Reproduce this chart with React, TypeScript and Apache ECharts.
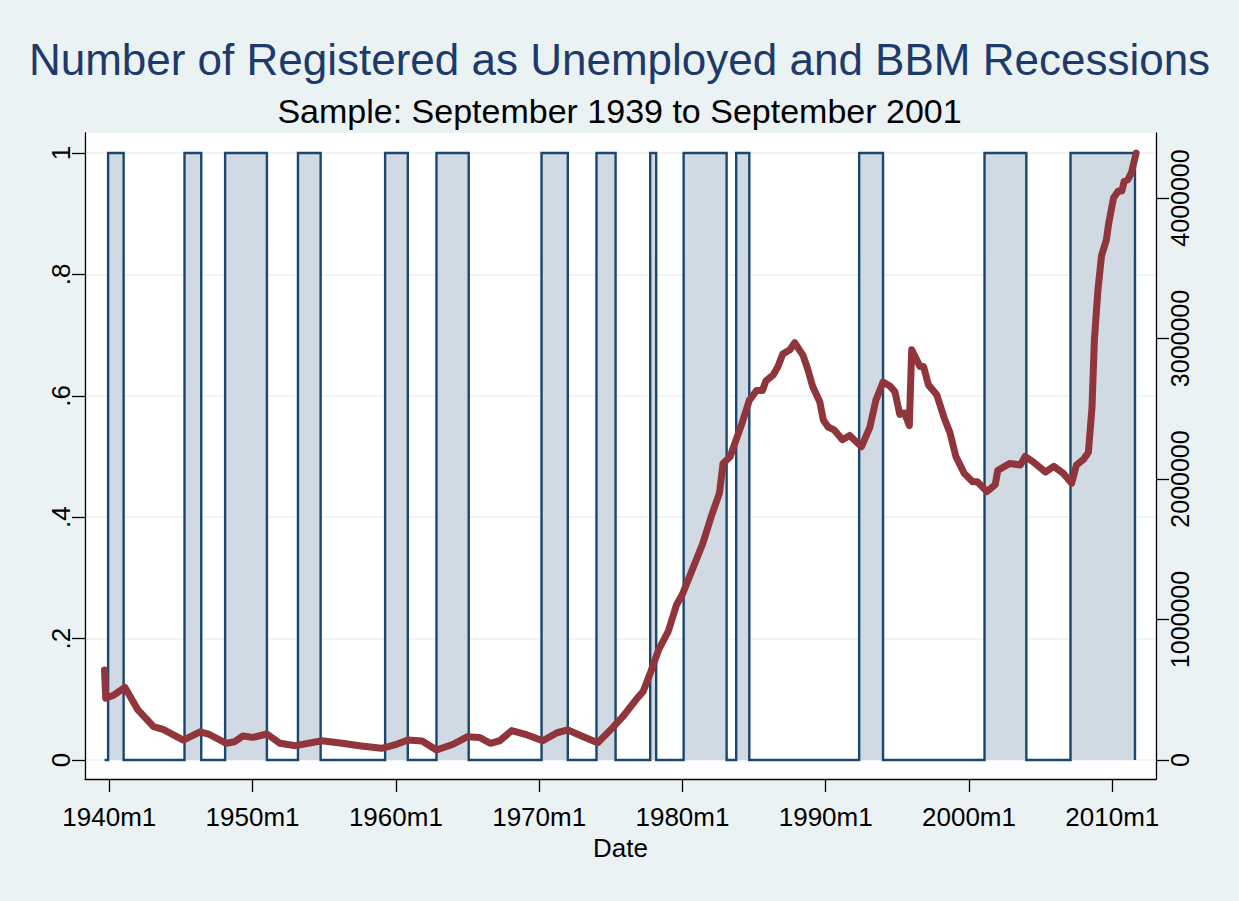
import React, { useEffect, useRef } from "react";
import * as echarts from "echarts";

const FONT = "'Liberation Sans', Arial, Helvetica, sans-serif";

const titleText = "Number of Registered as Unemployed and BBM Recessions";
const subtitleText = "Sample: September 1939 to September 2001";
const xAxisTitle = "Date";

// Sample start (monthly dates, Stata style "YYYYmM")
const sampleStart = "1939m9";

// BBM recession periods (indicator = 1)
const recessionStarts = [
  "1939m12", "1945m4", "1948m2", "1953m3", "1959m4", "1962m11", "1970m3",
  "1974m1", "1977m10", "1980m2", "1983m10", "1992m5", "2001m2", "2007m2",
];
const recessionEnds = [
  "1941m1", "1946m6", "1951m1", "1954m10", "1960m11", "1965m2", "1972m1",
  "1975m5", "1978m3", "1983m2", "1984m9", "1994m1", "2004m1", "2011m8",
];

// Number of registered as unemployed (persons)
const unempDates = [
  "1939m9", "1939m10", "1940m5", "1941m2", "1942m1", "1943m2", "1943m10", "1945m3",
  "1946m5", "1946m12", "1948m3", "1948m10", "1949m5", "1950m1", "1951m1", "1951m12",
  "1953m1", "1954m11", "1956m4", "1957m8", "1959m1", "1959m12", "1960m11", "1961m11",
  "1962m11", "1964m1", "1965m1", "1965m11", "1966m8", "1967m4", "1968m2", "1969m3",
  "1970m4", "1971m4", "1972m1", "1973m2", "1974m2", "1975m2", "1975m11", "1976m11",
  "1977m4", "1977m10", "1978m5", "1979m1", "1979m8", "1980m1", "1981m6", "1982m1",
  "1982m8", "1982m11", "1983m5", "1983m10", "1984m3", "1984m9", "1985m3", "1985m8",
  "1985m11", "1986m5", "1986m9", "1987m1", "1987m7", "1987m11", "1988m6", "1988m10",
  "1989m2", "1989m8", "1989m11", "1990m3", "1990m8", "1991m3", "1991m9", "1992m7",
  "1993m2", "1993m7", "1994m1", "1994m7", "1994m11", "1995m3", "1995m7", "1995m11",
  "1996m1", "1996m8", "1996m11", "1997m3", "1997m10", "1998m4", "1998m9", "1999m2",
  "1999m9", "2000m4", "2000m8", "2001m4", "2001m11", "2002m1", "2002m11", "2003m8",
  "2003m12", "2004m7", "2005m5", "2005m12", "2006m8", "2007m3", "2007m7", "2008m1",
  "2008m5", "2008m8", "2008m10", "2009m1", "2009m4", "2009m8", "2009m10", "2010m2",
  "2010m6", "2010m9", "2010m11", "2011m2", "2011m5", "2011m9",
];
const unempValues = [
  640000, 440000, 463000, 517000, 356000, 237000, 218000, 142000,
  201000, 185000, 119000, 130000, 171000, 161000, 185000, 119000,
  102000, 137000, 119000, 100000, 83000, 107000, 142000, 135000,
  71000, 112000, 166000, 161000, 119000, 137000, 209000, 178000,
  137000, 194000, 214000, 166000, 123000, 225000, 308000, 439000,
  486000, 617000, 783000, 913000, 1103000, 1180000, 1540000, 1730000,
  1900000, 2110000, 2160000, 2280000, 2400000, 2560000, 2630000, 2630000,
  2700000, 2740000, 2800000, 2890000, 2920000, 2970000, 2880000, 2780000,
  2660000, 2550000, 2420000, 2370000, 2350000, 2280000, 2310000, 2230000,
  2370000, 2560000, 2690000, 2660000, 2620000, 2460000, 2470000, 2380000,
  2920000, 2800000, 2800000, 2670000, 2600000, 2440000, 2330000, 2160000,
  2040000, 1980000, 1980000, 1910000, 1960000, 2060000, 2110000, 2100000,
  2160000, 2120000, 2050000, 2090000, 2040000, 1970000, 2100000, 2140000,
  2190000, 2510000, 2990000, 3350000, 3590000, 3700000, 3820000, 4000000,
  4050000, 4050000, 4120000, 4130000, 4180000, 4320000,
];

const xTickLabels = ["1940m1", "1950m1", "1960m1", "1970m1", "1980m1", "1990m1", "2000m1", "2010m1"];
const leftTickValues = [0, 0.2, 0.4, 0.6, 0.8, 1];
const leftTickLabels = ["0", ".2", ".4", ".6", ".8", "1"];
const rightTickValues = [0, 1000000, 2000000, 3000000, 4000000];

function toYear(s: string): number {
  const [y, m] = s.split("m").map(Number);
  return y + (m - 1) / 12;
}

export default function App() {
  const ref = useRef<HTMLDivElement>(null);

  useEffect(() => {
    if (!ref.current) return;
    const chart = echarts.init(ref.current, undefined, { renderer: "svg" });

    const recessionData: number[][] = [[toYear(sampleStart), 0]];
    recessionStarts.forEach((s, i) => {
      const a = toYear(s);
      const b = toYear(recessionEnds[i]);
      recessionData.push([a, 0], [a, 1], [b, 1], [b, 0]);
    });
    const unempData = unempDates.map((d, i) => [toYear(d), unempValues[i]]);
    const xTickValues = xTickLabels.map(toYear);

    const axisLineStyle = { color: "#000", width: 1.3 };

    chart.setOption({
      animation: false,
      backgroundColor: "#EAF2F3",
      textStyle: { fontFamily: FONT },
      title: [
        {
          text: titleText,
          left: "center",
          top: 32,
          textStyle: { color: "#1E3A6B", fontSize: 44, fontWeight: "normal", fontFamily: FONT },
        },
        {
          text: subtitleText,
          left: "center",
          top: 89,
          textStyle: { color: "#000", fontSize: 34, fontWeight: "normal", fontFamily: FONT },
        },
      ],
      grid: {
        left: 85,
        right: 83,
        top: 133,
        bottom: 122,
        show: true,
        backgroundColor: "#FFFFFF",
        borderWidth: 0,
        containLabel: false,
        outerBoundsMode: "none",
      },
      xAxis: {
        type: "value",
        min: 1938.304,
        max: 2013.05,
        name: xAxisTitle,
        nameLocation: "middle",
        nameGap: 54,
        nameTextStyle: { fontSize: 26, color: "#000", fontFamily: FONT },
        axisLine: { show: true, onZero: false, lineStyle: axisLineStyle },
        axisTick: { show: true, length: 13, customValues: xTickValues, lineStyle: axisLineStyle },
        axisLabel: {
          customValues: xTickValues,
          fontSize: 26,
          color: "#000",
          margin: 25,
          fontFamily: FONT,
          formatter: (v: number) => {
            const i = xTickValues.findIndex((t) => Math.abs(t - v) < 1e-6);
            return i >= 0 ? xTickLabels[i] : "";
          },
        },
        splitLine: { show: false },
      },
      yAxis: [
        {
          type: "value",
          position: "left",
          min: -0.0313,
          max: 1.033,
          axisLine: { show: true, onZero: false, lineStyle: axisLineStyle },
          axisTick: { show: true, length: 13, customValues: leftTickValues, lineStyle: axisLineStyle },
          axisLabel: {
            customValues: leftTickValues,
            rotate: 90,
            fontSize: 26,
            color: "#000",
            margin: 11,
            fontFamily: FONT,
            formatter: (v: number) => {
              const i = leftTickValues.findIndex((t) => Math.abs(t - v) < 1e-9);
              return i >= 0 ? leftTickLabels[i] : "";
            },
          },
          splitLine: { show: true, lineStyle: { color: "#EAF2F3", width: 1.6 } },
        },
        {
          type: "value",
          position: "right",
          min: -0.1352e6,
          max: 4.4626e6,
          axisLine: { show: true, onZero: false, lineStyle: axisLineStyle },
          axisTick: { show: true, length: 13, customValues: rightTickValues, lineStyle: axisLineStyle },
          axisLabel: {
            customValues: rightTickValues,
            rotate: 90,
            fontSize: 25,
            color: "#000",
            margin: 11,
            fontFamily: FONT,
            formatter: (v: number) => String(Math.round(v)),
          },
          splitLine: { show: false },
        },
      ],
      series: [
        {
          type: "line",
          name: "Recession",
          xAxisIndex: 0,
          yAxisIndex: 0,
          data: recessionData,
          showSymbol: false,
          symbol: "none",
          lineStyle: { color: "#1A476F", width: 2.4, join: "miter" },
          areaStyle: { color: "#D1D9E2", opacity: 1 },
          z: 2,
        },
        {
          type: "line",
          name: "Registered unemployed",
          xAxisIndex: 0,
          yAxisIndex: 1,
          data: unempData,
          showSymbol: false,
          symbol: "none",
          lineStyle: { color: "#90353B", width: 7, cap: "round", join: "round" },
          z: 3,
        },
      ],
    });

    return () => {
      chart.dispose();
    };
  }, []);

  return (
    <div
      ref={ref}
      style={{ position: "fixed", left: 0, top: 0, width: 1239, height: 901 }}
    />
  );
}
